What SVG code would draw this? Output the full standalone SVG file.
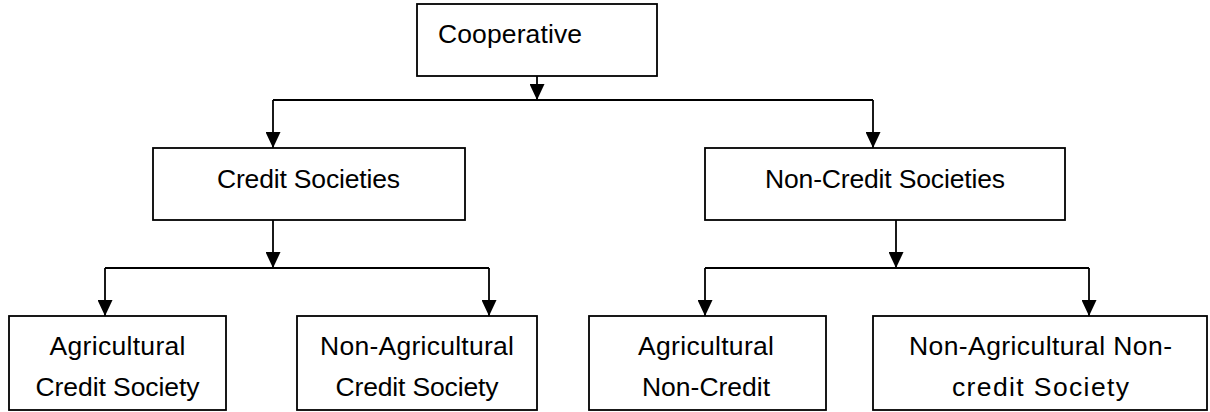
<svg xmlns="http://www.w3.org/2000/svg" width="1210" height="412" viewBox="0 0 1210 412">
  <style>
    .box { fill: #ffffff; stroke: #000000; stroke-width: 1.8; }
    .lbl { font-family: "Liberation Sans", Arial, sans-serif; font-size: 26.5px; fill: #000000; }
    .mid { text-anchor: middle; }
    .conn { fill: none; stroke: #000000; stroke-width: 1.8; }
  </style>
  <defs>
    <marker id="arrow" markerUnits="userSpaceOnUse" markerWidth="16" markerHeight="15" refX="16" refY="7.5" orient="auto">
      <path d="M0,0 L16,7.5 L0,15 Z" fill="#000000"/>
    </marker>
  </defs>
  <rect width="1210" height="412" fill="#ffffff"/>

  <g id="connectors">
    <line class="conn" x1="537" y1="76" x2="537" y2="100" marker-end="url(#arrow)"/>
    <path class="conn" d="M273,100 H873"/>
    <line class="conn" x1="273" y1="100" x2="273" y2="148" marker-end="url(#arrow)"/>
    <line class="conn" x1="873" y1="100" x2="873" y2="148" marker-end="url(#arrow)"/>

    <line class="conn" x1="273" y1="220" x2="273" y2="268" marker-end="url(#arrow)"/>
    <path class="conn" d="M105,268 H489"/>
    <line class="conn" x1="105" y1="268" x2="105" y2="316" marker-end="url(#arrow)"/>
    <line class="conn" x1="489" y1="268" x2="489" y2="316" marker-end="url(#arrow)"/>

    <line class="conn" x1="896" y1="220" x2="896" y2="268" marker-end="url(#arrow)"/>
    <path class="conn" d="M705,268 H1089"/>
    <line class="conn" x1="705" y1="268" x2="705" y2="316" marker-end="url(#arrow)"/>
    <line class="conn" x1="1089" y1="268" x2="1089" y2="316" marker-end="url(#arrow)"/>
  </g>

  <g id="cooperative">
    <rect class="box" x="417" y="4" width="240" height="72"/>
    <text class="lbl" x="438" y="43" textLength="144" lengthAdjust="spacing">Cooperative</text>
  </g>

  <g id="credit-societies">
    <rect class="box" x="153" y="148" width="312" height="72"/>
    <text class="lbl mid" x="308.5" y="188" textLength="183" lengthAdjust="spacing">Credit Societies</text>
  </g>

  <g id="non-credit-societies">
    <rect class="box" x="705" y="148" width="360" height="72"/>
    <text class="lbl mid" x="885" y="188" textLength="240" lengthAdjust="spacing">Non-Credit Societies</text>
  </g>

  <g id="agricultural-credit-society">
    <rect class="box" x="9" y="316" width="217" height="94"/>
    <text class="lbl mid" x="117.5" y="355" textLength="136" lengthAdjust="spacing">Agricultural</text>
    <text class="lbl mid" x="117.5" y="396" textLength="164" lengthAdjust="spacing">Credit Society</text>
  </g>

  <g id="non-agricultural-credit-society">
    <rect class="box" x="297" y="316" width="240" height="94"/>
    <text class="lbl mid" x="417" y="355" textLength="194" lengthAdjust="spacing">Non-Agricultural</text>
    <text class="lbl mid" x="417" y="396" textLength="163" lengthAdjust="spacing">Credit Society</text>
  </g>

  <g id="agricultural-non-credit">
    <rect class="box" x="589" y="316" width="237" height="94"/>
    <text class="lbl mid" x="706" y="355" textLength="136" lengthAdjust="spacing">Agricultural</text>
    <text class="lbl mid" x="706" y="396" textLength="128" lengthAdjust="spacing">Non-Credit</text>
  </g>

  <g id="non-agricultural-non-credit-society">
    <rect class="box" x="873" y="316" width="334" height="94"/>
    <text class="lbl mid" x="1040.5" y="355" textLength="263" lengthAdjust="spacing">Non-Agricultural Non-</text>
    <text class="lbl mid" x="1040.5" y="396" textLength="177" lengthAdjust="spacing">credit Society</text>
  </g>
</svg>
